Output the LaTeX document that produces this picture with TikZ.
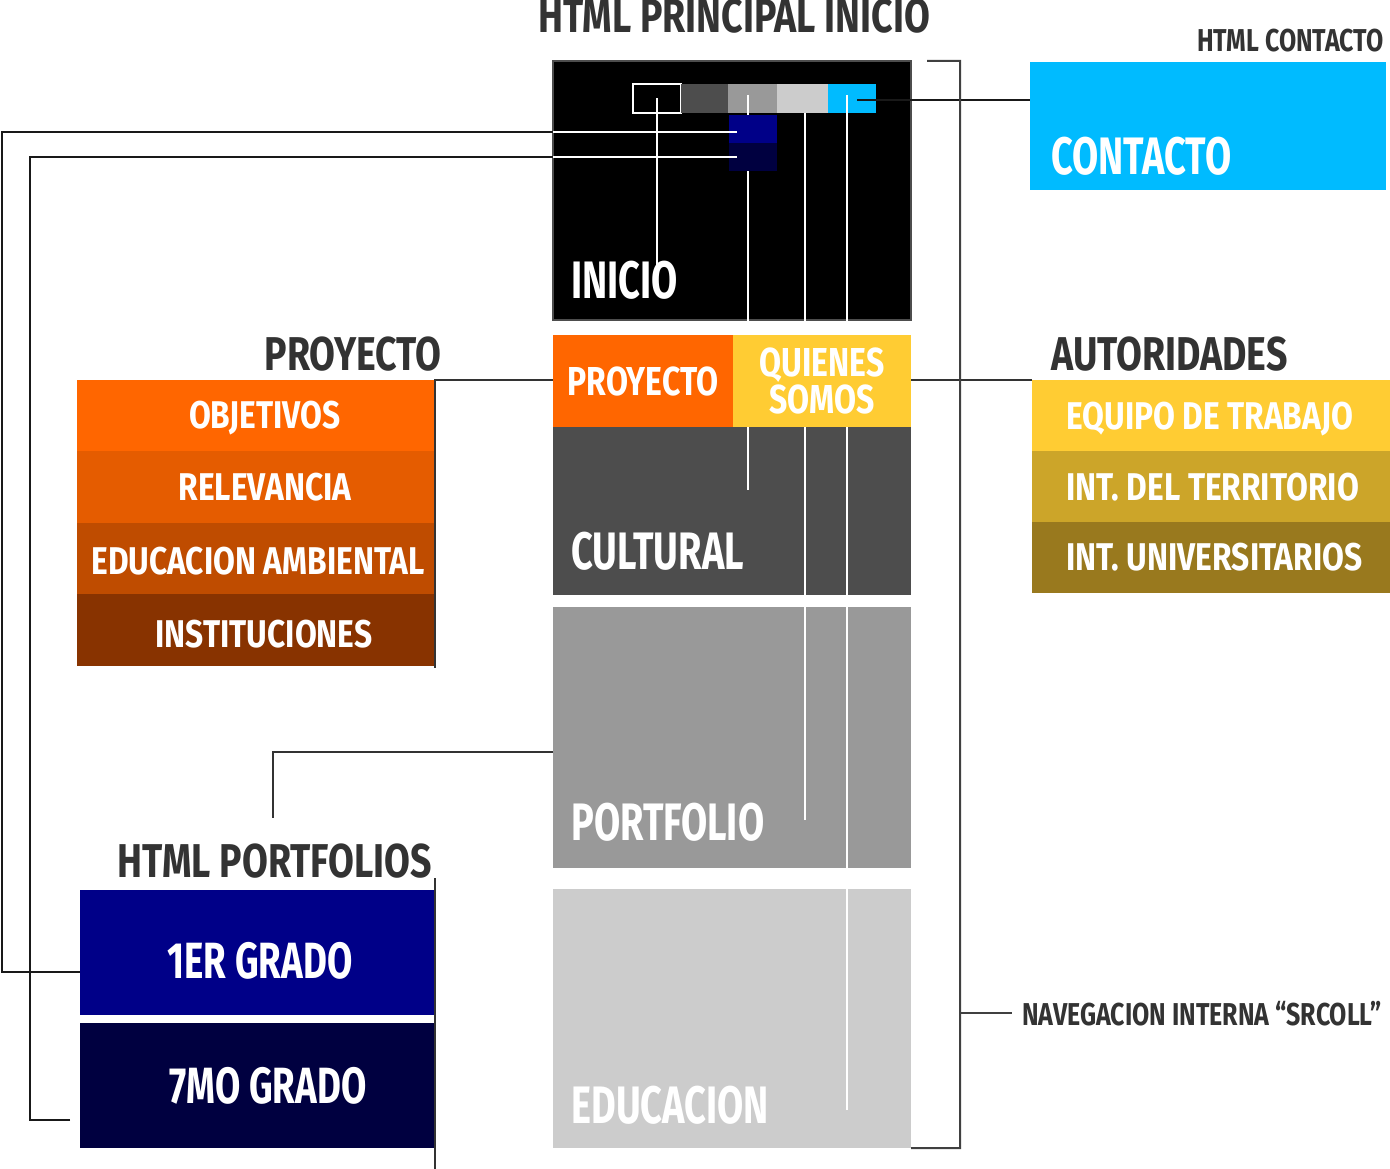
\documentclass[tikz,border=0pt]{standalone}
\usepackage{fontspec}
\newfontfamily\cond{Fira Sans}[FakeStretch=0.72]
\newfontfamily\condtit{Fira Sans}[FakeStretch=0.79]
\newfontfamily\condsmall{Fira Sans}[FakeStretch=0.82]

\definecolor{naranja}{HTML}{FF6600}
\definecolor{naranjab}{HTML}{E55C00}
\definecolor{naranjac}{HTML}{BF4C00}
\definecolor{marron}{HTML}{883300}
\definecolor{amarillo}{HTML}{FFCC33}
\definecolor{ocre}{HTML}{CCA529}
\definecolor{ocreosc}{HTML}{99791E}
\definecolor{celeste}{HTML}{00BBFF}
\definecolor{azul}{HTML}{000088}
\definecolor{azulosc}{HTML}{000040}
\definecolor{gris5}{HTML}{4D4D4D}
\definecolor{gris9}{HTML}{999999}
\definecolor{grisc}{HTML}{CCCCCC}
\definecolor{tinta}{HTML}{333333}

\tikzset{
  box/.style={inner sep=0, outer sep=0, anchor=north west},
  conn/.style={line width=0.04cm, black!90},
  wline/.style={line width=0.04cm, white},
  biglabel/.style={inner sep=0, anchor=base west, text=white, font=\cond\bfseries\fontsize{30}{30}\selectfont},
  item/.style={inner sep=0, text=white, font=\condsmall\bfseries\fontsize{22}{22}\selectfont},
  grado/.style={inner sep=0, anchor=base, text=white, font=\cond\bfseries\fontsize{29}{29}\selectfont},
  title/.style={inner sep=0, text=tinta, font=\condtit\bfseries\fontsize{27}{27}\selectfont},
  smalltitle/.style={inner sep=0, text=tinta, font=\condtit\bfseries\fontsize{18}{18}\selectfont}
}

\begin{document}
\begin{tikzpicture}[x=0.02cm, y=-0.02cm]
\useasboundingbox (0,0) rectangle (1390,1169);

% pantallas centrales
\node[box, fill=black, draw=gris5, line width=0.04cm, minimum width=358*0.02cm, minimum height=259*0.02cm] (inicio) at (553,61) {};
\node[box, fill=gris5, minimum width=358*0.02cm, minimum height=168*0.02cm] (cultural) at (553,427) {};
\node[box, fill=gris9, minimum width=358*0.02cm, minimum height=261*0.02cm] (portfolio) at (553,607) {};
\node[box, fill=grisc, minimum width=358*0.02cm, minimum height=259*0.02cm] (educ) at (553,889) {};

% menu
\node[box, fill=black, draw=white, line width=0.03cm, minimum width=48*0.02cm, minimum height=29*0.02cm] (nav1) at (633,84) {};
\node[box, fill=gris5, minimum width=47*0.02cm, minimum height=29*0.02cm] (nav2) at (681,84) {};
\node[box, fill=gris9, minimum width=49*0.02cm, minimum height=29*0.02cm] (nav3) at (728,84) {};
\node[box, fill=grisc, minimum width=51*0.02cm, minimum height=29*0.02cm] (nav4) at (777,84) {};
\node[box, fill=celeste, minimum width=48*0.02cm, minimum height=29*0.02cm] (nav5) at (828,84) {};

% scroll
\draw[wline] (nav1.center) -- (657,268);
\draw[wline] (748,95) -- (748,490);
\draw[wline] (805,113) -- (805,820);
\draw[wline] (847,95) -- (847,1110);

\node[box, fill=azul, minimum width=48*0.02cm, minimum height=28*0.02cm] (sub1) at (729,115) {};
\node[box, fill=azulosc, minimum width=48*0.02cm, minimum height=28*0.02cm] (sub2) at (729,143) {};

\node[box, fill=naranja, minimum width=180*0.02cm, minimum height=92*0.02cm, text=white, font=\condtit\bfseries\fontsize{23}{23}\selectfont] (proy) at (553,335) {PROYECTO};
\node[box, fill=amarillo, minimum width=178*0.02cm, minimum height=92*0.02cm, text=white, align=center, font=\condtit\bfseries\fontsize{23}{19}\selectfont] (quienes) at (733,335) {QUIENES\\SOMOS};

\node[biglabel] (inicio-t) at (571,298) {INICIO};
\node[biglabel] (cultural-t) at (571,569) {CULTURAL};
\node[biglabel] (portfolio-t) at (571,840) {PORTFOLIO};
\node[biglabel] (educ-t) at (571,1123) {EDUCACION};
\node[title, anchor=base west] (principal) at (538,33) {HTML PRINCIPAL INICIO};

% contacto
\node[box, fill=celeste, minimum width=356*0.02cm, minimum height=128*0.02cm] (contacto) at (1030,62) {};
\node[biglabel] (contacto-t) at (1051,175) {CONTACTO};
\node[smalltitle, anchor=base east] (htmlcont) at (1384,52) {HTML CONTACTO};

% autoridades
\node[title, anchor=base west] (autor) at (1051,370) {AUTORIDADES};
\node[box, fill=amarillo, minimum width=358*0.02cm, minimum height=71*0.02cm] (equipo) at (1032,380) {};
\node[box, fill=ocre, minimum width=358*0.02cm, minimum height=71*0.02cm] (territorio) at (1032,451) {};
\node[box, fill=ocreosc, minimum width=358*0.02cm, minimum height=71*0.02cm] (univ) at (1032,522) {};
\node[item, anchor=base west] (equipo-t) at (1066,429) {EQUIPO DE TRABAJO};
\node[item, anchor=base west] (territorio-t) at (1066,500) {INT. DEL TERRITORIO};
\node[item, anchor=base west] (univ-t) at (1066,570) {INT. UNIVERSITARIOS};

% proyecto
\node[title, anchor=base east] (proytit) at (442,370) {PROYECTO};
\node[box, fill=naranja, minimum width=358*0.02cm, minimum height=71*0.02cm] (obj) at (77,380) {};
\node[box, fill=naranjab, minimum width=358*0.02cm, minimum height=72*0.02cm] (rel) at (77,451) {};
\node[box, fill=naranjac, minimum width=358*0.02cm, minimum height=71*0.02cm] (ambiental) at (77,523) {};
\node[box, fill=marron, minimum width=358*0.02cm, minimum height=72*0.02cm] (inst) at (77,594) {};
\node[item, anchor=base] (obj-t) at (265,428) {OBJETIVOS};
\node[item, anchor=base] (rel-t) at (265,500) {RELEVANCIA};
\node[item, anchor=base] (ambiental-t) at (258,574) {EDUCACION AMBIENTAL};
\node[item, anchor=base] (inst-t) at (264,647) {INSTITUCIONES};

% portfolios
\node[title, anchor=base east] (portit) at (432,877) {HTML PORTFOLIOS};
\node[box, fill=azul, minimum width=355*0.02cm, minimum height=125*0.02cm] (g1) at (80,890) {};
\node[box, fill=azulosc, minimum width=355*0.02cm, minimum height=125*0.02cm] (g7) at (80,1023) {};
\node[grado] (g1-t) at (260,978) {1ER GRADO};
\node[grado] (g7-t) at (268,1103) {7MO GRADO};

% conexiones
\draw[conn] (g1.west |- 0,972) -| (2,132) -- (inicio.west |- 0,132);
\draw[conn] (70,1120) -| (30,157) -- (inicio.west |- 0,157);
\draw[wline] (inicio.west |- 0,132) -- (737,132);
\draw[wline] (inicio.west |- 0,157) -- (737,157);
\draw[conn] (857,100) -- (contacto.west |- 0,100);
\draw[conn, tinta] (proy.west |- 0,380) -- (obj.north east) -- ([yshift=-0.04cm]inst.south east);
\draw[conn, tinta] (quienes.east |- 0,380) -- (equipo.north west);
\draw[conn, tinta] (portfolio.west |- 0,752) -| (273,818);
\draw[conn, tinta] (g1.east |- 0,878) -- (g7.east |- 0,1169);

% navegacion interna
\draw[conn, black!75] ([xshift=0.32cm]inicio.north east) -| (960,1148) -- (educ.south east);
\draw[conn, black!75] (960,1013) -- (1012,1013);
\node[smalltitle, anchor=base west] (scroll) at (1022,1025) {NAVEGACION INTERNA “SRCOLL”};
\end{tikzpicture}
\end{document}
